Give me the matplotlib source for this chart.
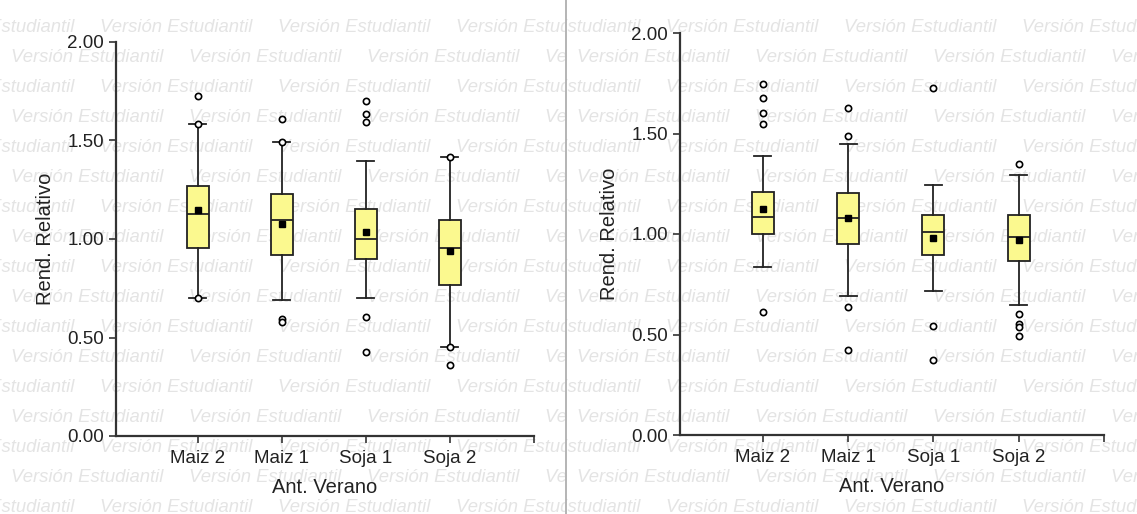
import matplotlib
matplotlib.use("Agg")
import matplotlib.pyplot as plt

plt.rcParams['font.family'] = ['Liberation Sans', 'DejaVu Sans']

# categorias del eje x
cultivos = ["Maiz 2", "Maiz 1", "Soja 1", "Soja 2"]

# panel izquierdo: cuartiles, medianas, medias, bigotes y atipicos
izq_q1 = [0.953, 0.917, 0.900, 0.768]
izq_med = [1.128, 1.096, 1.000, 0.953]
izq_q3 = [1.270, 1.230, 1.152, 1.095]
izq_media = [1.147, 1.075, 1.034, 0.939]
izq_bigote_inf = [0.702, 0.692, 0.699, 0.450]
izq_bigote_sup = [1.584, 1.490, 1.396, 1.416]
izq_atipicos = [[0.702, 1.584, 1.726],
                [0.594, 0.580, 1.490, 1.610],
                [0.604, 0.428, 1.595, 1.634, 1.700],
                [0.450, 0.359, 1.416]]

# panel derecho
der_q1 = [0.998, 0.949, 0.894, 0.866]
der_med = [1.085, 1.081, 1.010, 0.985]
der_q3 = [1.210, 1.202, 1.093, 1.093]
der_media = [1.123, 1.080, 0.979, 0.970]
der_bigote_inf = [0.834, 0.692, 0.715, 0.648]
der_bigote_sup = [1.388, 1.448, 1.244, 1.295]
der_atipicos = [[0.610, 1.549, 1.602, 1.678, 1.745],
                [0.635, 0.424, 1.486, 1.628],
                [0.542, 0.375, 1.726],
                [0.603, 0.554, 0.537, 0.493, 1.350]]

marca = "Versión Estudiantil"

W, H = 1137, 514
fig = plt.figure(figsize=(W / 100, H / 100), dpi=100)
fig.patch.set_facecolor("white")


def marca_agua(x0, x1):
    # un eje de fondo por imagen, asi el texto se recorta en la division
    fondo = fig.add_axes([x0 / W, 0, (x1 - x0) / W, 1], zorder=-5)
    fondo.set_xlim(x0, x1)
    fondo.set_ylim(H, 0)
    fondo.axis("off")
    fila = 0
    y = 27
    while y < H + 15:
        xx = x0 + (100 if fila % 2 == 0 else 11) - 178
        while xx < x1:
            fondo.text(xx, y, marca, fontsize=13.3, style="italic", color="#e4e4e4",
                       va="center", ha="left", clip_on=True)
            xx += 178
        y += 30
        fila += 1


marca_agua(0, 565)
marca_agua(566, W)

fig.add_artist(plt.Line2D([565.5 / W, 565.5 / W], [0, 1], color="#a8a8a8", lw=1.2, zorder=3))


def stats(q1, med, q3, media, binf, bsup, atip):
    salida = []
    for i in range(len(cultivos)):
        salida.append(dict(q1=q1[i], med=med[i], q3=q3[i], mean=media[i],
                           whislo=binf[i], whishi=bsup[i], fliers=atip[i],
                           label=cultivos[i]))
    return salida


def panel(rect, datos):
    ax = fig.add_axes(rect)
    ax.patch.set_alpha(0)
    ax.bxp(datos, positions=[1, 2, 3, 4], widths=0.26, capwidths=0.2,
           showmeans=True, patch_artist=True,
           boxprops=dict(facecolor="#fbf98f", edgecolor="#222222", linewidth=1.3),
           medianprops=dict(color="#222222", linewidth=1.3),
           whiskerprops=dict(color="#222222", linewidth=1.3),
           capprops=dict(color="#222222", linewidth=1.3),
           meanprops=dict(marker="s", markerfacecolor="black", markeredgecolor="black",
                          markersize=5),
           flierprops=dict(marker="o", markerfacecolor="white", markeredgecolor="black",
                           markersize=4.5, markeredgewidth=1.2))
    ax.set_xlim(0.03, 5)
    ax.set_ylim(0, 2)
    ax.set_yticks([0, 0.5, 1.0, 1.5, 2.0])
    ax.set_yticklabels(["0.00", "0.50", "1.00", "1.50", "2.00"])
    ax.set_xticks([1, 2, 3, 4, 5])
    ax.set_xticklabels(cultivos + [""])
    for s in ("top", "right"):
        ax.spines[s].set_visible(False)
    for s in ("left", "bottom"):
        ax.spines[s].set_color("#333333")
        ax.spines[s].set_linewidth(1.6)
    ax.tick_params(axis="both", labelsize=13.5, length=5, width=1.2, color="#333333",
                   labelcolor="#222222")
    ax.tick_params(axis="x", pad=5)
    ax.set_xlabel("Ant. Verano", fontsize=14.5, color="#222222", labelpad=8)
    ax.set_ylabel("Rend. Relativo", fontsize=14.5, color="#222222", labelpad=9)
    return ax


panel([116 / W, 1 - 436 / H, (534 - 116) / W, (436 - 42) / H],
      stats(izq_q1, izq_med, izq_q3, izq_media, izq_bigote_inf, izq_bigote_sup, izq_atipicos))
panel([680 / W, 1 - 435 / H, (1104 - 680) / W, (435 - 33) / H],
      stats(der_q1, der_med, der_q3, der_media, der_bigote_inf, der_bigote_sup, der_atipicos))

fig.savefig("out.png", dpi=100, facecolor="white")
